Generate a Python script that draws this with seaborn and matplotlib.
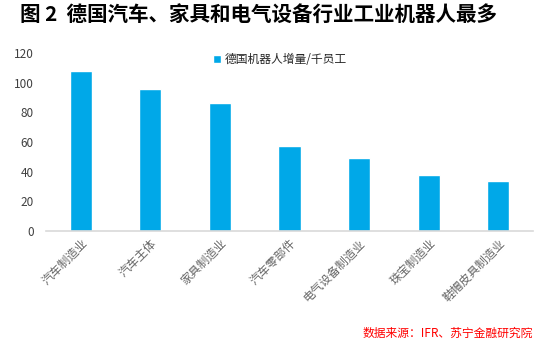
import matplotlib
matplotlib.use("Agg")
import matplotlib.pyplot as plt
import seaborn as sns
import pandas as pd

industries = ["汽车制造业", "汽车主体", "家具制造业", "汽车零部件", "电气设备制造业", "珠宝制造业", "鞋帽皮具制造业"]
robots_per_k = [108, 96, 86, 57, 49, 38, 34]
series_name = "德国机器人增量/千员工"
y_ticks = [0, 20, 40, 60, 80, 100, 120]

sns.set_theme(style="white")
plt.rcParams["font.family"] = ["Noto Sans CJK SC", "DejaVu Sans"]
plt.rcParams["axes.unicode_minus"] = False

df = pd.DataFrame({"行业": industries, "值": robots_per_k, "系列": series_name})

fig = plt.figure(figsize=(5.37, 3.42), dpi=100)
ax = fig.add_axes([46 / 537, 1 - 231 / 342, 487 / 537, (231 - 53) / 342])

sns.barplot(data=df, x="行业", y="值", hue="系列", palette=["#00A8E8"],
            width=0.32, ax=ax, saturation=1)

ax.set_ylim(0, 120)
ax.set_yticks(y_ticks)
ax.set_xlim(-0.5, len(industries) - 0.5)
ax.set_xlabel("")
ax.set_ylabel("")
ax.tick_params(axis="y", length=0, labelsize=8.5, labelcolor="#404040", pad=9)
ax.tick_params(axis="x", length=0, labelsize=8.5, labelcolor="#666666", pad=4)
for lbl in ax.get_xticklabels():
    lbl.set_rotation(45)
    lbl.set_ha("right")
    lbl.set_rotation_mode("anchor")

for side in ["top", "right", "left"]:
    ax.spines[side].set_visible(False)
ax.spines["bottom"].set_color("#D9D9D9")
ax.spines["bottom"].set_linewidth(1.2)

leg = ax.legend(loc="upper center", bbox_to_anchor=(0.48, 1.06), frameon=False,
                fontsize=8.5, handlelength=0.7, handleheight=0.7, handletextpad=0.3)
for t in leg.get_texts():
    t.set_color("#262626")

fig.text(20 / 537, 1 - 14 / 342, "图 2  德国汽车、家具和电气设备行业工业机器人最多",
         fontsize=14.8, fontweight="bold", va="center", ha="left", color="black")
fig.text(533 / 537, 1 - 333 / 342, "数据来源：IFR、苏宁金融研究院",
         fontsize=8.5, style="italic", color="#FF0000", va="center", ha="right")

fig.savefig("out.png", dpi=100)
